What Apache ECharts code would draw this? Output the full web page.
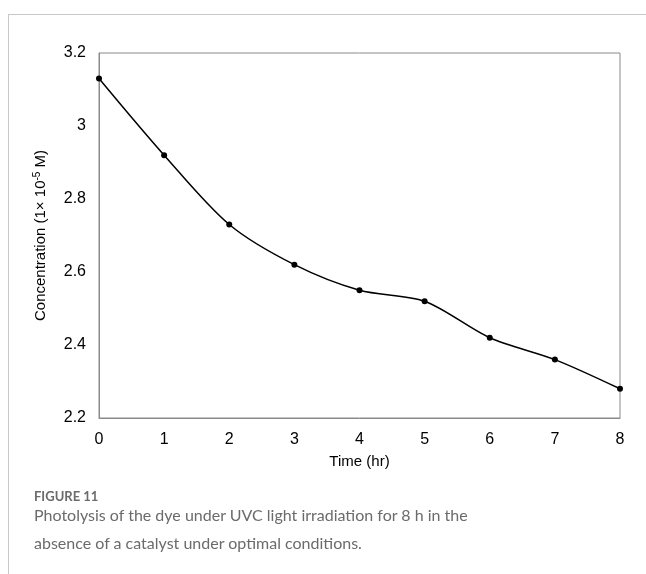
<!DOCTYPE html>
<html>
<head>
<meta charset="utf-8">
<script src="https://cdn.jsdelivr.net/npm/echarts@6/dist/echarts.min.js"></script>
<style>
  body { margin: 0; background: #fff; }
  #wrap { position: relative; width: 646px; height: 574px; overflow: hidden; }
  #frame { position: absolute; left: 8px; top: 14px; right: -2px; bottom: -2px;
           border-top: 1px solid #c8c8c8; border-left: 1px solid #c8c8c8; }
  #chart { position: absolute; left: 0; top: 0; width: 646px; height: 574px; }
  #cap { position: absolute; left: 34px; top: 489px; width: 600px;
         font-family: Lato, sans-serif; color: #6b6b6b; }
  #cap .fig { font-size: 13px; font-weight: bold; line-height: 15px; }
  #cap .txt { font-size: 16px; line-height: 28px; margin-top: -3px; }
</style>
</head>
<body>
<div id="wrap">
  <div id="frame"></div>
  <div id="chart"></div>
  <div id="cap">
    <div class="fig">FIGURE 11</div>
    <div class="txt">Photolysis of the dye under UVC light irradiation for 8 h in the<br>absence of a catalyst under optimal conditions.</div>
  </div>
</div>
<script>
// 时间(小时)与浓度
var times = [0, 1, 2, 3, 4, 5, 6, 7, 8];
var concentration = [3.13, 2.92, 2.73, 2.62, 2.55, 2.52, 2.42, 2.36, 2.28];
var yTicks = [2.2, 2.4, 2.6, 2.8, 3, 3.2];

var chart = echarts.init(document.getElementById('chart'));
var font = '"Liberation Sans", Arial, sans-serif';
var axisColor = '#8a8a8a';

var points = [];
for (var i = 0; i < times.length; i++) {
  points.push([times[i], concentration[i]]);
}

chart.setOption({
  animation: false,
  grid: {
    left: 99, right: 26, top: 53, bottom: 156,
    show: true, borderColor: axisColor, borderWidth: 1
  },
  xAxis: {
    type: 'value', min: 0, max: 8, interval: 1,
    name: 'Time (hr)', nameLocation: 'middle', nameGap: 36,
    nameTextStyle: { fontFamily: font, fontSize: 15, color: '#000' },
    axisLine: { lineStyle: { color: axisColor } },
    axisTick: { show: false },
    splitLine: { show: false },
    axisLabel: { fontFamily: font, fontSize: 16, color: '#000', margin: 14 }
  },
  yAxis: {
    type: 'value', min: yTicks[0], max: yTicks[yTicks.length - 1], interval: 0.2,
    name: '{a|Concentration (1× 10}{s|-5}{a| M)}',
    nameLocation: 'middle', nameGap: 50,
    nameTextStyle: {
      rich: {
        a: { fontFamily: font, fontSize: 15, color: '#000' },
        s: { fontFamily: font, fontSize: 10, color: '#000', padding: [0, 0, 7, 0] }
      }
    },
    axisLine: { show: true, lineStyle: { color: axisColor } },
    axisTick: { show: false },
    splitLine: { show: false },
    axisLabel: {
      fontFamily: font, fontSize: 16, color: '#000', margin: 13,
      formatter: function (v) { return String(Math.round(v * 10) / 10); }
    }
  },
  series: [{
    type: 'line',
    data: points,
    smooth: 0.3,
    symbol: 'circle',
    symbolSize: 6,
    lineStyle: { color: '#000', width: 1.5 },
    itemStyle: { color: '#000' }
  }]
});
</script>
</body>
</html>
